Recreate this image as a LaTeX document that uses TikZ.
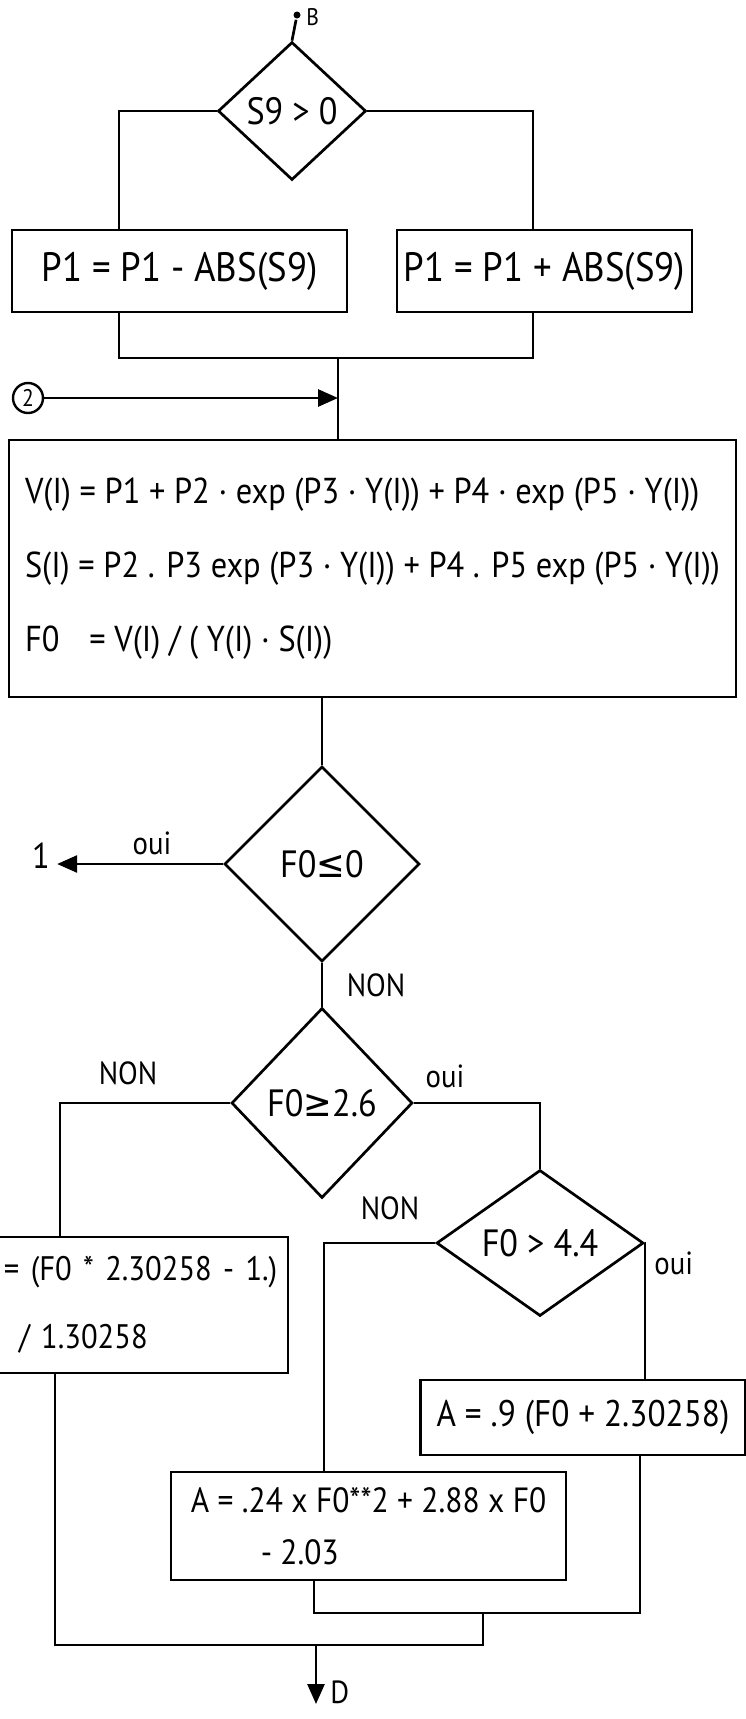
\documentclass[tikz,border=0pt]{standalone}
\usepackage{fontspec}
\setmainfont{PT Sans}[FakeStretch=0.9]
\newfontfamily\symfont{DejaVu Sans}[FakeStretch=0.9]
\usetikzlibrary{arrows.meta,shapes.geometric}

\newcommand{\leqs}{{\symfont ≤}}
\newcommand{\geqs}{{\symfont ≥}}

\begin{document}
\begin{tikzpicture}[
  x=1pt,y=-1pt,
  line width=2.7pt,
  >={Triangle[length=20pt,width=17pt]},
  test/.style={diamond,draw,inner sep=0pt,font=\fontsize{38}{40}\selectfont},
  box/.style={rectangle,draw,inner sep=0pt,font=\fontsize{38}{46}\selectfont},
  lab/.style={inner sep=1pt,font=\fontsize{32}{34}\selectfont},
  dot/.style={circle,fill,inner sep=0pt,minimum size=7pt}
]
  \useasboundingbox (0,0) rectangle (746,1719);

  % entry B and sign of S9
  \node[dot] (B) at (297,15) {};
  \node[lab,anchor=west,font=\fontsize{24}{24}\selectfont] (lbB) at (304,17) {B};
  \node[test,minimum width=148pt,minimum height=138pt] (sg) at (292,111) {S9 > 0};
  \node[box,minimum width=335pt,minimum height=82pt,font=\fontsize{41}{46}\selectfont] (sub) at (179.5,271) {P1 = P1 - ABS(S9)};
  \node[box,minimum width=295pt,minimum height=82pt,font=\fontsize{41}{46}\selectfont] (add) at (544.5,271) {P1 = P1 + ABS(S9)};

  \coordinate (subT) at (119,230);
  \coordinate (addT) at (533,230);
  \coordinate (subB) at (119,312);
  \coordinate (addB) at (533,312);
  \coordinate (m1) at (338,358);

  \draw (B) -- (sg.north);
  \draw (sg.west) -| (subT);
  \draw (sg.east) -| (addT);
  \draw (subB) |- (m1) -| (addB);

  % main computation
  \node[box,minimum width=727pt,minimum height=257pt,align=left,font=\fontsize{36}{74}\selectfont] (calc) at (372.5,568.5)
    {V(I) = P1 + P2 · exp (P3 · Y(I)) + P4 · exp (P5 · Y(I))\\
     S(I) = P2 . P3 exp (P3 · Y(I)) + P4 . P5 exp (P5 · Y(I))\\
     F0\hspace{30pt}= V(I) / ( Y(I) · S(I))};
  \draw (m1) -- (calc.north -| m1);
  \node[circle,draw,line width=2.4pt,inner sep=3pt,minimum size=30pt,font=\fontsize{24}{24}\selectfont] (two) at (28,398) {2};
  \draw[->] (two.east) -- (two.east -| m1);

  % tests on F0
  \node[test,minimum width=195pt,minimum height=195pt] (neg) at (322,864) {F0\leqs0};
  \draw (calc.south -| neg.north) -- (neg.north);
  \node[lab,font=\fontsize{36}{36}\selectfont,inner sep=6pt] (one) at (41,856) {1};
  \draw[->] (neg.west) -- (neg.west -| one.east);
  \node[lab] at (152,843) {oui};

  \node[test,minimum width=181pt,minimum height=190pt] (lo) at (322,1103) {F0\geqs2.6};
  \draw (neg.south) -- (lo.north);
  \node[lab] at (376,985) {NON};

  \node[box,minimum width=318pt,minimum height=136pt,align=left,text width=250pt,font=\fontsize{34}{68}\selectfont] (lin) at (129,1305)
    {\mbox{= (F0 * 2.30258 - 1.)}\\\hspace*{15pt}\mbox{/ 1.30258}};
  \coordinate (linT) at (60,1237);
  \draw (lo.west) -| (linT);
  \node[lab] at (128,1073) {NON};

  \node[test,minimum width=207pt,minimum height=146pt] (hi) at (540,1243) {F0 > 4.4};
  \draw (lo.east) -| (hi.north);
  \node[lab] at (445,1076) {oui};

  \node[box,minimum width=325pt,minimum height=75pt,font=\fontsize{37}{40}\selectfont] (big) at (583,1417.5) {A = .9 (F0 + 2.30258)};
  \node[box,minimum width=395pt,minimum height=108pt,align=left,font=\fontsize{35}{52}\selectfont] (mid) at (368.5,1526)
    {A = .24 x F0**2 + 2.88 x F0\\\hspace*{70pt}- 2.03};
  \coordinate (midT) at (324,1472);
  \coordinate (bigT) at (645,1380);
  \draw (hi.west) -| (midT);
  \node[lab] at (390,1208) {NON};
  \draw (hi.east) -| (bigT);
  \node[lab,anchor=west] at (652,1263) {oui};

  % merging to D
  \coordinate (linB) at (55,1373);
  \coordinate (midB) at (314,1580);
  \coordinate (bigB) at (640,1455);
  \coordinate (m2) at (483,1613);
  \coordinate (m3) at (483,1645);
  \coordinate (out) at (316,1645);
  \coordinate (exit) at (316,1704);
  \draw (midB) |- (m2) -| (bigB);
  \draw (linB) |- (m3) -- (m2);
  \draw[->] (out) -- (exit);
  \node[lab,anchor=west] (lbD) at (328,1692) {D};
\end{tikzpicture}
\end{document}
